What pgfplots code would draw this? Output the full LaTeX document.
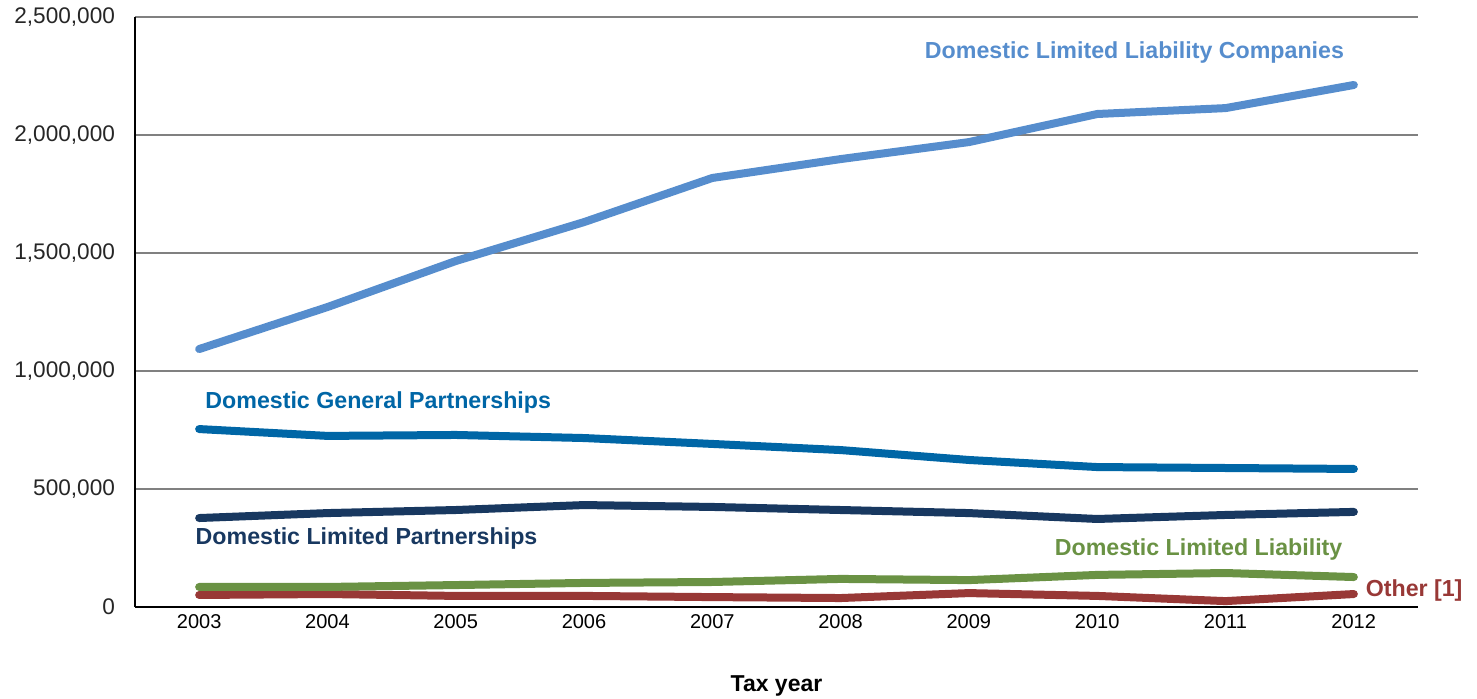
\documentclass[border=0pt]{standalone}
\usepackage{fontspec}
\setmainfont{Liberation Sans}
\usepackage{pgfplots}
\pgfplotsset{compat=1.18}

\definecolor{llc}{RGB}{86,141,205}
\definecolor{gp}{RGB}{0,102,166}
\definecolor{lp}{RGB}{24,56,96}
\definecolor{ll}{RGB}{106,146,68}
\definecolor{oth}{RGB}{152,56,54}

\begin{document}
\begin{tikzpicture}
\useasboundingbox (0,0) rectangle (738.5pt,349pt);
\begin{axis}[
    at={(67.5pt,45.5pt)}, anchor=south west,
    scale only axis, width=641.5pt, height=295pt,
    xmin=2002.5, xmax=2012.5,
    ymin=0, ymax=2500000,
    xtick={2003,2004,...,2012},
    ytick={0,500000,1000000,1500000,2000000,2500000},
    scaled y ticks=false,
    /pgf/number format/assume math mode=true,
    xticklabel style={/pgf/number format/1000 sep=, font=\fontsize{10}{12}\selectfont},
    yticklabel style={/pgf/number format/fixed, /pgf/number format/1000 sep={,},
        font=\fontsize{11.3}{13}\selectfont, text=black!85, xshift=-6.5pt},
    axis x line*=bottom, axis y line*=left,
    axis line style={black, line width=0.8pt},
    major tick length=0pt,
    ymajorgrids, grid style={black!50, line width=0.6pt},
    xlabel={\textbf{Tax year}},
    xlabel style={font=\fontsize{11.5}{13}\selectfont, yshift=-17pt},
    clip=false,
    every axis plot/.append style={line width=4pt, line cap=round, line join=round, mark=none},
]
\addplot[oth] coordinates {(2003,51000) (2004,55000) (2005,47000) (2006,47000) (2007,42000)
    (2008,38000) (2009,59000) (2010,47000) (2011,25000) (2012,55000)};
\addplot[ll] coordinates {(2003,85000) (2004,85000) (2005,93000) (2006,102000) (2007,106000)
    (2008,119000) (2009,114000) (2010,136000) (2011,144000) (2012,127000)};
\addplot[lp] coordinates {(2003,377000) (2004,398000) (2005,411000) (2006,432000) (2007,424000)
    (2008,411000) (2009,398000) (2010,373000) (2011,390000) (2012,403000)};
\addplot[gp] coordinates {(2003,754000) (2004,725000) (2005,729000) (2006,716000) (2007,691000)
    (2008,665000) (2009,623000) (2010,593000) (2011,589000) (2012,585000)};
\addplot[llc] coordinates {(2003,1093000) (2004,1271000) (2005,1466000) (2006,1631000) (2007,1818000)
    (2008,1898000) (2009,1970000) (2010,2089000) (2011,2114000) (2012,2212000)};

\node[text=llc, font=\bfseries\fontsize{11.6}{13}\selectfont] at (axis cs:2010.29,2347500) {Domestic Limited Liability Companies};
\node[text=gp, anchor=west, inner sep=0pt, font=\bfseries\fontsize{11.6}{13}\selectfont] at (axis cs:2003.046,864500) {Domestic General Partnerships};
\node[text=lp, anchor=west, inner sep=0pt, font=\bfseries\fontsize{11.6}{13}\selectfont] at (axis cs:2002.97,288200) {Domestic Limited Partnerships};
\node[text=ll, font=\bfseries\fontsize{11.6}{13}\selectfont] at (axis cs:2010.79,245800) {Domestic Limited Liability};
\node[text=oth, anchor=west, inner sep=0pt, font=\bfseries\fontsize{11.6}{13}\selectfont] at (axis cs:2012.09,67900) {Other [1]};
\end{axis}
\end{tikzpicture}
\end{document}
